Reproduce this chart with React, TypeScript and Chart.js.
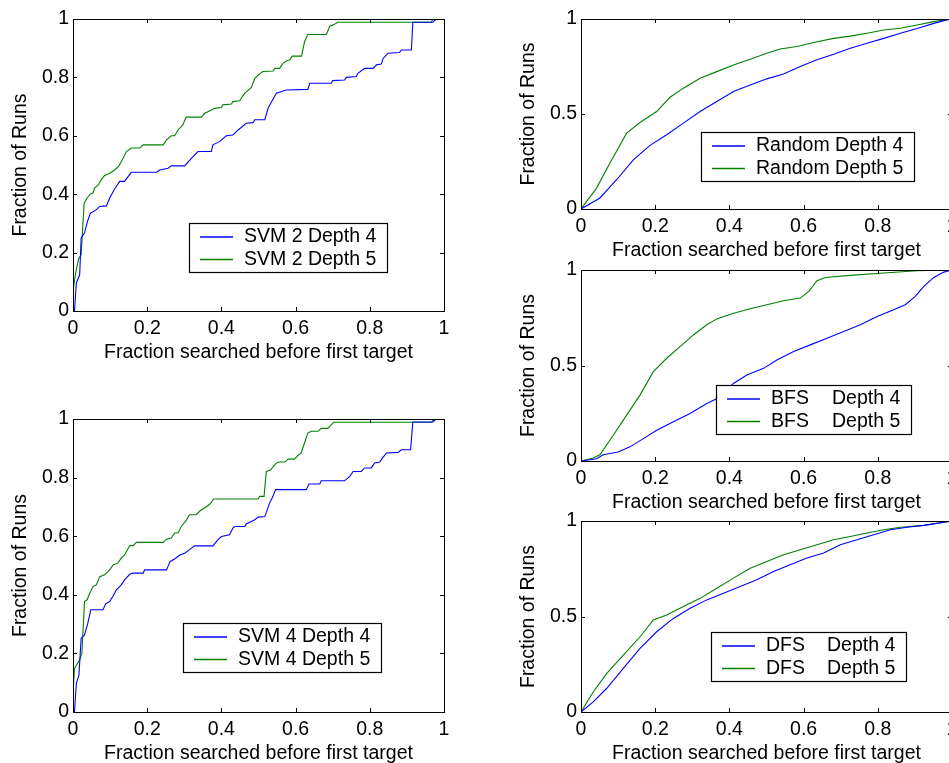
import React, { useEffect, useRef } from 'react';
import { Chart, registerables } from 'chart.js';

Chart.register(...registerables);

const FONT = '"Liberation Sans", Arial, Helvetica, sans-serif';
const FS = 19.5;
const BLUE = '#0000ff';
const GREEN = '#008000';

const xTicks = [0, 0.2, 0.4, 0.6, 0.8, 1];
const yTicksFine = [0, 0.2, 0.4, 0.6, 0.8, 1];
const yTicksCoarse = [0, 0.5, 1];
const xTitle = 'Fraction searched before first target';
const yTitle = 'Fraction of Runs';

const svm2Labels = ['SVM 2 Depth 4', 'SVM 2 Depth 5'];
const svm4Labels = ['SVM 4 Depth 4', 'SVM 4 Depth 5'];
const randomLabels = ['Random Depth 4', 'Random Depth 5'];
const bfsLabels = ['BFS\tDepth 4', 'BFS\tDepth 5'];
const dfsLabels = ['DFS\tDepth 4', 'DFS\tDepth 5'];

const svm2D4X = [0, 0.004, 0.009, 0.018, 0.022, 0.031, 0.039, 0.047, 0.063, 0.072, 0.09, 0.099, 0.112, 0.126, 0.139, 0.157, 0.225, 0.234, 0.256, 0.265, 0.301, 0.319, 0.337, 0.373, 0.377, 0.395, 0.413, 0.431, 0.445, 0.467, 0.485, 0.49, 0.517, 0.526, 0.548, 0.575, 0.633, 0.638, 0.696, 0.7, 0.732, 0.737, 0.764, 0.768, 0.786, 0.809, 0.818, 0.831, 0.836, 0.849, 0.88, 0.885, 0.912, 0.916, 0.97, 0.979, 1];
const svm2D4Y = [0, 0, 0.096, 0.124, 0.25, 0.267, 0.307, 0.335, 0.347, 0.358, 0.36, 0.387, 0.418, 0.444, 0.444, 0.475, 0.475, 0.483, 0.489, 0.497, 0.497, 0.523, 0.546, 0.546, 0.569, 0.58, 0.6, 0.603, 0.62, 0.643, 0.645, 0.655, 0.655, 0.695, 0.746, 0.757, 0.759, 0.78, 0.78, 0.789, 0.791, 0.8, 0.803, 0.814, 0.831, 0.831, 0.843, 0.846, 0.865, 0.883, 0.885, 0.894, 0.894, 0.989, 0.989, 1, 1];

const svm2D5X = [0, 0.007, 0.015, 0.022, 0.03, 0.038, 0.047, 0.054, 0.058, 0.067, 0.076, 0.085, 0.099, 0.112, 0.123, 0.135, 0.144, 0.157, 0.18, 0.189, 0.243, 0.252, 0.265, 0.274, 0.283, 0.296, 0.305, 0.346, 0.355, 0.368, 0.382, 0.4, 0.404, 0.427, 0.431, 0.449, 0.463, 0.481, 0.49, 0.503, 0.512, 0.539, 0.544, 0.557, 0.566, 0.575, 0.584, 0.591, 0.616, 0.624, 0.633, 0.683, 0.692, 0.7, 0.714, 0.966, 0.97, 1];
const svm2D5Y = [0.067, 0.13, 0.178, 0.193, 0.369, 0.387, 0.401, 0.404, 0.421, 0.43, 0.449, 0.464, 0.472, 0.483, 0.495, 0.523, 0.546, 0.558, 0.558, 0.569, 0.569, 0.586, 0.6, 0.6, 0.62, 0.637, 0.664, 0.664, 0.677, 0.685, 0.694, 0.697, 0.706, 0.709, 0.717, 0.72, 0.746, 0.766, 0.797, 0.812, 0.82, 0.822, 0.831, 0.831, 0.848, 0.856, 0.86, 0.873, 0.873, 0.922, 0.947, 0.947, 0.975, 0.979, 0.989, 0.989, 1, 1];

const svm4D4X = [0, 0.004, 0.009, 0.016, 0.022, 0.031, 0.04, 0.048, 0.081, 0.088, 0.099, 0.108, 0.117, 0.13, 0.139, 0.153, 0.162, 0.189, 0.193, 0.252, 0.262, 0.274, 0.288, 0.301, 0.314, 0.328, 0.377, 0.391, 0.4, 0.422, 0.431, 0.436, 0.463, 0.467, 0.49, 0.499, 0.517, 0.53, 0.539, 0.546, 0.629, 0.636, 0.665, 0.669, 0.732, 0.746, 0.755, 0.777, 0.786, 0.804, 0.813, 0.827, 0.836, 0.845, 0.876, 0.885, 0.91, 0.916, 0.97, 0.979, 1];
const svm4D4Y = [0, 0, 0.098, 0.126, 0.252, 0.263, 0.303, 0.349, 0.349, 0.369, 0.377, 0.396, 0.417, 0.434, 0.451, 0.47, 0.474, 0.474, 0.485, 0.485, 0.514, 0.522, 0.536, 0.542, 0.554, 0.567, 0.567, 0.588, 0.599, 0.605, 0.628, 0.633, 0.633, 0.642, 0.656, 0.665, 0.667, 0.713, 0.736, 0.759, 0.759, 0.778, 0.778, 0.789, 0.789, 0.804, 0.821, 0.821, 0.833, 0.833, 0.85, 0.853, 0.87, 0.884, 0.886, 0.895, 0.895, 0.99, 0.99, 1, 1];

const svm4D5X = [0, 0.004, 0.018, 0.024, 0.031, 0.038, 0.045, 0.054, 0.063, 0.072, 0.085, 0.09, 0.099, 0.108, 0.121, 0.13, 0.139, 0.153, 0.162, 0.171, 0.243, 0.252, 0.265, 0.274, 0.283, 0.292, 0.305, 0.314, 0.332, 0.341, 0.355, 0.368, 0.379, 0.499, 0.503, 0.515, 0.521, 0.532, 0.548, 0.557, 0.571, 0.58, 0.597, 0.606, 0.615, 0.624, 0.633, 0.642, 0.66, 0.669, 0.687, 0.703, 0.966, 0.975, 1];
const svm4D5Y = [0.064, 0.149, 0.178, 0.2, 0.377, 0.383, 0.405, 0.428, 0.434, 0.462, 0.468, 0.474, 0.485, 0.502, 0.508, 0.525, 0.536, 0.568, 0.568, 0.579, 0.579, 0.59, 0.594, 0.611, 0.611, 0.633, 0.654, 0.673, 0.673, 0.685, 0.697, 0.708, 0.727, 0.727, 0.736, 0.736, 0.821, 0.826, 0.85, 0.853, 0.853, 0.863, 0.863, 0.875, 0.884, 0.918, 0.952, 0.958, 0.958, 0.968, 0.968, 0.989, 0.989, 1, 1];

const randomD4X = [0, 0.051, 0.096, 0.141, 0.186, 0.231, 0.276, 0.321, 0.366, 0.411, 0.456, 0.501, 0.546, 0.591, 0.636, 0.681, 0.726, 0.771, 0.816, 0.861, 0.906, 0.951, 0.991, 1];
const randomD4Y = [0, 0.058, 0.154, 0.259, 0.335, 0.391, 0.452, 0.513, 0.566, 0.618, 0.653, 0.685, 0.711, 0.75, 0.785, 0.814, 0.846, 0.872, 0.898, 0.925, 0.95, 0.977, 0.998, 1];

const randomD5X = [0, 0.042, 0.078, 0.123, 0.159, 0.204, 0.24, 0.276, 0.321, 0.366, 0.411, 0.456, 0.501, 0.537, 0.582, 0.627, 0.681, 0.726, 0.771, 0.816, 0.861, 0.906, 0.951, 0.991, 1];
const randomD5Y = [0, 0.11, 0.242, 0.399, 0.455, 0.513, 0.588, 0.636, 0.688, 0.723, 0.758, 0.788, 0.82, 0.842, 0.855, 0.876, 0.898, 0.91, 0.925, 0.942, 0.951, 0.968, 0.986, 0.998, 1];

const bfsD4X = [0, 0.042, 0.06, 0.1, 0.132, 0.168, 0.204, 0.249, 0.294, 0.339, 0.364, 0.411, 0.447, 0.492, 0.528, 0.573, 0.618, 0.663, 0.708, 0.753, 0.798, 0.843, 0.874, 0.901, 0.924, 0.951, 0.978, 1];
const bfsD4Y = [0, 0.012, 0.033, 0.047, 0.074, 0.117, 0.161, 0.205, 0.249, 0.301, 0.325, 0.406, 0.45, 0.485, 0.529, 0.573, 0.608, 0.643, 0.678, 0.713, 0.757, 0.792, 0.818, 0.862, 0.914, 0.961, 0.989, 1];

const bfsD5X = [0, 0.033, 0.051, 0.087, 0.123, 0.159, 0.195, 0.231, 0.267, 0.303, 0.339, 0.366, 0.411, 0.456, 0.501, 0.546, 0.591, 0.614, 0.636, 0.659, 0.726, 0.816, 0.906, 1];
const bfsD5Y = [0, 0.016, 0.033, 0.135, 0.24, 0.345, 0.468, 0.538, 0.599, 0.66, 0.713, 0.744, 0.774, 0.797, 0.818, 0.839, 0.853, 0.888, 0.944, 0.961, 0.972, 0.984, 0.996, 1];

const dfsD4X = [0, 0.033, 0.069, 0.114, 0.159, 0.204, 0.249, 0.294, 0.339, 0.384, 0.429, 0.474, 0.519, 0.564, 0.609, 0.654, 0.699, 0.744, 0.789, 0.834, 0.879, 0.924, 1];
const dfsD4Y = [0, 0.053, 0.123, 0.228, 0.333, 0.42, 0.49, 0.543, 0.587, 0.622, 0.657, 0.692, 0.736, 0.771, 0.806, 0.832, 0.876, 0.902, 0.928, 0.954, 0.967, 0.977, 1];

const dfsD5X = [0, 0.033, 0.069, 0.114, 0.159, 0.195, 0.231, 0.276, 0.321, 0.366, 0.411, 0.456, 0.501, 0.546, 0.591, 0.636, 0.681, 0.726, 0.771, 0.816, 0.861, 0.924, 1];
const dfsD5Y = [0, 0.105, 0.201, 0.298, 0.394, 0.482, 0.508, 0.552, 0.595, 0.648, 0.701, 0.753, 0.788, 0.823, 0.849, 0.876, 0.902, 0.919, 0.937, 0.954, 0.967, 0.977, 1];

type Series = { label: string; x: number[]; y: number[]; color: string };
type PanelCfg = {
  key: string;
  area: { l: number; t: number; r: number; b: number };
  yTicks: number[];
  series: Series[];
  legend: { dx: number; dy: number; tab: number };
};

const Y_AXIS_W = 73;
const PAD_TOP = 19;
const PAD_RIGHT = 16;
const X_AXIS_H = 53;
const TICK_LEN = 4;

const panels: PanelCfg[] = [
  {
    key: 'svm2',
    area: { l: 73, t: 19, r: 444, b: 311 },
    yTicks: yTicksFine,
    series: [
      { label: svm2Labels[0], x: svm2D4X, y: svm2D4Y, color: BLUE },
      { label: svm2Labels[1], x: svm2D5X, y: svm2D5Y, color: GREEN },
    ],
    legend: { dx: 116, dy: 204, tab: 0 },
  },
  {
    key: 'svm4',
    area: { l: 73, t: 419, r: 444, b: 712 },
    yTicks: yTicksFine,
    series: [
      { label: svm4Labels[0], x: svm4D4X, y: svm4D4Y, color: BLUE },
      { label: svm4Labels[1], x: svm4D5X, y: svm4D5Y, color: GREEN },
    ],
    legend: { dx: 110, dy: 204, tab: 0 },
  },
  {
    key: 'random',
    area: { l: 581, t: 19, r: 952, b: 209 },
    yTicks: yTicksCoarse,
    series: [
      { label: randomLabels[0], x: randomD4X, y: randomD4Y, color: BLUE },
      { label: randomLabels[1], x: randomD5X, y: randomD5Y, color: GREEN },
    ],
    legend: { dx: 120, dy: 113, tab: 0 },
  },
  {
    key: 'bfs',
    area: { l: 581, t: 270, r: 952, b: 461 },
    yTicks: yTicksCoarse,
    series: [
      { label: bfsLabels[0], x: bfsD4X, y: bfsD4Y, color: BLUE },
      { label: bfsLabels[1], x: bfsD5X, y: bfsD5Y, color: GREEN },
    ],
    legend: { dx: 135, dy: 115, tab: 61 },
  },
  {
    key: 'dfs',
    area: { l: 581, t: 521, r: 952, b: 712 },
    yTicks: yTicksCoarse,
    series: [
      { label: dfsLabels[0], x: dfsD4X, y: dfsD4Y, color: BLUE },
      { label: dfsLabels[1], x: dfsD5X, y: dfsD5Y, color: GREEN },
    ],
    legend: { dx: 130, dy: 111, tab: 61 },
  },
];

function framePlugin(cfg: PanelCfg) {
  return {
    id: 'frame_' + cfg.key,
    afterDatasetsDraw(chart: any) {
      const { ctx, chartArea: a, scales } = chart;
      const xs = scales.x;
      const ys = scales.y;
      ctx.save();
      ctx.strokeStyle = '#000';
      ctx.lineWidth = 1;
      ctx.beginPath();
      for (const v of xTicks) {
        const p = Math.round(xs.getPixelForValue(v)) + 0.5;
        ctx.moveTo(p, a.bottom);
        ctx.lineTo(p, a.bottom - TICK_LEN);
        ctx.moveTo(p, a.top);
        ctx.lineTo(p, a.top + TICK_LEN);
      }
      for (const v of cfg.yTicks) {
        const p = Math.round(ys.getPixelForValue(v)) + 0.5;
        ctx.moveTo(a.left, p);
        ctx.lineTo(a.left + TICK_LEN, p);
        ctx.moveTo(a.right, p);
        ctx.lineTo(a.right - TICK_LEN, p);
      }
      ctx.stroke();
      ctx.strokeRect(a.left + 0.5, a.top + 0.5, a.right - a.left, a.bottom - a.top);

      // legend box
      const lg = cfg.legend;
      const bx = Math.round(a.left + lg.dx);
      const by = Math.round(a.top + lg.dy);
      ctx.font = `${FS}px ${FONT}`;
      const textOff = 55;
      let maxW = 0;
      const dsets = chart.data.datasets;
      for (const ds of dsets) {
        const parts = String(ds.label).split('\t');
        const w = parts.length > 1 ? lg.tab + ctx.measureText(parts[1]).width : ctx.measureText(parts[0]).width;
        if (w > maxW) maxW = w;
      }
      const bw = Math.round(textOff + maxW + 11);
      const bh = 49;
      ctx.fillStyle = '#fff';
      ctx.fillRect(bx, by, bw, bh);
      ctx.strokeStyle = '#000';
      ctx.lineWidth = 1.2;
      ctx.strokeRect(bx + 0.5, by + 0.5, bw, bh);
      dsets.forEach((ds: any, i: number) => {
        const ry = by + 14 + i * 22.5;
        ctx.beginPath();
        ctx.strokeStyle = ds.borderColor;
        ctx.lineWidth = 1.3;
        ctx.moveTo(bx + 11, ry);
        ctx.lineTo(bx + 44, ry);
        ctx.stroke();
        const parts = String(ds.label).split('\t');
        ctx.fillStyle = '#000';
        ctx.textBaseline = 'middle';
        ctx.textAlign = 'left';
        ctx.fillText(parts[0], bx + textOff, ry);
        if (parts.length > 1) ctx.fillText(parts[1], bx + textOff + lg.tab, ry);
      });
      ctx.restore();
    },
  };
}

function Panel({ cfg }: { cfg: PanelCfg }) {
  const ref = useRef<HTMLCanvasElement>(null);
  const { l, t, r, b } = cfg.area;
  const cLeft = l - Y_AXIS_W;
  const cTop = t - PAD_TOP;
  const cW = r - l + Y_AXIS_W + PAD_RIGHT;
  const cH = b - t + PAD_TOP + X_AXIS_H;

  useEffect(() => {
    const canvas = ref.current!;
    const font = { family: FONT, size: FS };
    const chart = new Chart(canvas, {
      type: 'line',
      data: {
        datasets: cfg.series.map((s) => ({
          label: s.label,
          data: s.x.map((xv, i) => ({ x: xv, y: s.y[i] })),
          borderColor: s.color,
          backgroundColor: s.color,
          borderWidth: 1.1,
          pointRadius: 0,
          tension: 0,
          fill: false,
        })),
      },
      options: {
        animation: false,
        responsive: false,
        maintainAspectRatio: false,
        devicePixelRatio: 1,
        events: [],
        layout: { padding: { left: 0, top: PAD_TOP, right: PAD_RIGHT, bottom: 0 } },
        plugins: {
          legend: { display: false },
          tooltip: { enabled: false },
          title: { display: false },
        },
        scales: {
          x: {
            type: 'linear',
            min: 0,
            max: 1,
            grid: { display: false, drawTicks: false },
            border: { display: false },
            afterBuildTicks: (s: any) => {
              s.ticks = xTicks.map((v) => ({ value: v }));
            },
            afterFit: (s: any) => {
              s.height = X_AXIS_H;
            },
            ticks: {
              font,
              color: '#000',
              padding: 6,
              maxRotation: 0,
              autoSkip: false,
              callback: (v: any) => String(v),
            },
            title: { display: true, text: xTitle, font, color: '#000', padding: { top: 0, bottom: 0 } },
          },
          y: {
            type: 'linear',
            min: 0,
            max: 1,
            grid: { display: false, drawTicks: false },
            border: { display: false },
            afterBuildTicks: (s: any) => {
              s.ticks = cfg.yTicks.map((v) => ({ value: v }));
            },
            afterFit: (s: any) => {
              s.width = Y_AXIS_W;
            },
            ticks: {
              font,
              color: '#000',
              padding: 4,
              autoSkip: false,
              callback: (v: any) => String(v),
            },
            title: { display: true, text: yTitle, font, color: '#000', padding: { top: 9.3, bottom: 0 } },
          },
        },
      } as any,
      plugins: [framePlugin(cfg)],
    });
    return () => chart.destroy();
  }, []);

  return (
    <canvas
      ref={ref}
      width={cW}
      height={cH}
      style={{ position: 'absolute', left: cLeft, top: cTop, width: cW, height: cH }}
    />
  );
}

export default function App() {
  return (
    <div
      style={{
        position: 'absolute',
        left: 0,
        top: 0,
        width: 949,
        height: 763,
        overflow: 'hidden',
        background: '#fff',
      }}
    >
      {panels.map((p) => (
        <Panel key={p.key} cfg={p} />
      ))}
    </div>
  );
}
